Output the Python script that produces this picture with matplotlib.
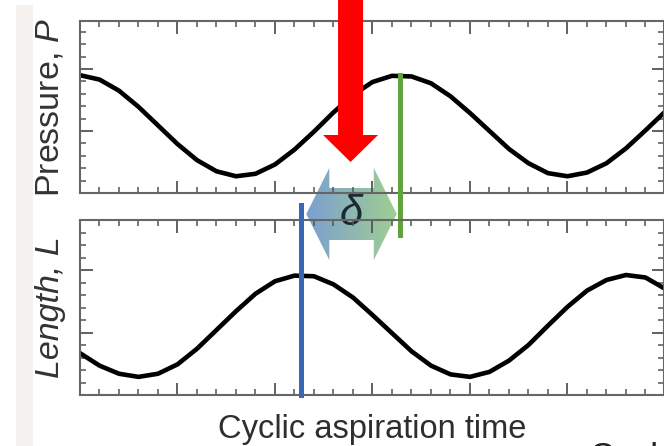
import numpy as np
import matplotlib.pyplot as plt
from matplotlib.patches import Polygon, Rectangle
from matplotlib.colors import LinearSegmentedColormap
from matplotlib.ticker import MultipleLocator

plt.rcParams['font.family'] = ['Liberation Sans', 'DejaVu Sans']
plt.rcParams['mathtext.fontset'] = 'custom'
plt.rcParams['mathtext.it'] = 'Liberation Sans:italic'
plt.rcParams['mathtext.rm'] = 'Liberation Sans'

# readings (time in arbitrary units)
time = [0.0, 0.2, 0.4, 0.6, 0.8, 1.0, 1.2, 1.4, 1.6, 1.8, 2.0,
        2.2, 2.4, 2.6, 2.8, 3.0, 3.2, 3.4, 3.6, 3.8, 4.0,
        4.2, 4.4, 4.6, 4.8, 5.0, 5.2, 5.4, 5.6, 5.8, 6.0]
pressure = [1.90, 1.83, 1.65, 1.39, 1.09, 0.79, 0.53, 0.35, 0.27, 0.31, 0.46,
            0.70, 0.99, 1.30, 1.58, 1.79, 1.89, 1.88, 1.77, 1.56, 1.29,
            1.00, 0.71, 0.48, 0.32, 0.27, 0.33, 0.48, 0.72, 1.01, 1.31]
length = [0.67, 0.47, 0.34, 0.29, 0.34, 0.49, 0.74, 1.04, 1.34, 1.62, 1.82,
          1.91, 1.90, 1.77, 1.56, 1.28, 0.99, 0.70, 0.47, 0.33, 0.29,
          0.37, 0.55, 0.80, 1.11, 1.41, 1.67, 1.84, 1.92, 1.88, 1.70]

p_peak = 3.28   # time of pressure maximum
l_peak = 2.27   # time of length maximum
delta_label = r'$\delta$'

W, H = 664, 446
fig = plt.figure(figsize=(W / 100, H / 100), dpi=100)

# overlay axes in pixel units, one below and one above the plots
under = fig.add_axes([0, 0, 1, 1], zorder=0)
ax_p = fig.add_axes([80 / W, 1 - 193 / H, 584 / W, 172 / H], zorder=2)
ax_l = fig.add_axes([80 / W, 1 - 395 / H, 584 / W, 175 / H], zorder=2)
over = fig.add_axes([0, 0, 1, 1], zorder=5)

for ax, y, top in ((ax_p, pressure, 172 / 62), (ax_l, length, 175 / 62.5)):
    ax.set_facecolor('none')
    ax.plot(time, y, color='black', lw=3.3, solid_capstyle='round',
            solid_joinstyle='round')
    ax.set_xlim(0, 5.99)
    ax.set_ylim(0, top)
    ax.xaxis.set_major_locator(MultipleLocator(1))
    ax.xaxis.set_minor_locator(MultipleLocator(0.2))
    ax.yaxis.set_major_locator(MultipleLocator(1))
    ax.yaxis.set_minor_locator(MultipleLocator(0.2))
    ax.tick_params(which='both', direction='in', top=True, right=True,
                   labelleft=False, labelbottom=False, color='#555555')
    ax.tick_params(which='major', length=9, width=1.3)
    ax.tick_params(which='minor', length=4.5, width=1.1)
    for s in ax.spines.values():
        s.set_color('#666666')
        s.set_linewidth(1.5)

# vertical markers at the two maxima
ax_p.axvline(p_peak, ymin=-0.245, ymax=max(pressure) / ax_p.get_ylim()[1],
             color='#62a43c', lw=3.6, clip_on=False, zorder=4)
ax_l.axvline(l_peak, ymin=0, ymax=1.086, color='#3a66b8', lw=3.6,
             clip_on=False, zorder=4)

for o in (under, over):
    o.set_xlim(0, W)
    o.set_ylim(0, H)
    o.axis('off')
    o.patch.set_alpha(0)

# light strip on the left edge
under.add_patch(Rectangle((16, 0), 17, H - 5, color='#f4f1ee', lw=0))

# gradient double arrow between the two maxima
x0 = ax_l.transData.transform((l_peak, 0))[0] + 5
x1 = ax_p.transData.transform((p_peak, 0))[0] - 3
yc = H - 214
hh, sh, hl = 46, 26, 23
pts = [(x0, yc), (x0 + hl, yc + hh), (x0 + hl, yc + sh), (x1 - hl, yc + sh),
       (x1 - hl, yc + hh), (x1, yc), (x1 - hl, yc - hh), (x1 - hl, yc - sh),
       (x0 + hl, yc - sh), (x0 + hl, yc - hh)]
arrow = Polygon(pts, closed=True, facecolor='none', edgecolor='none')
under.add_patch(arrow)
cmap = LinearSegmentedColormap.from_list('bg', ['#7c9fd2', '#9fcf91'])
im = under.imshow(np.linspace(0, 1, 256)[None, :], cmap=cmap, aspect='auto',
                  extent=(x0, x1, yc - hh, yc + hh), zorder=1)
im.set_clip_path(arrow)
under.set_xlim(0, W)
under.set_ylim(0, H)
under.text((x0 + x1) / 2, yc, delta_label, ha='center', va='center',
           fontsize=30, color='#1c2a30', zorder=3)

# red arrow pointing at the lag
cx = (ax_l.transData.transform((l_peak, 0))[0]
      + ax_p.transData.transform((p_peak, 0))[0]) / 2
over.arrow(cx, H, 0, -162, width=25, head_width=55, head_length=27,
           length_includes_head=True, color='#ff0000', lw=0)

# labels
pp = ax_p.get_position()
lp = ax_l.get_position()
fig.text(50 / W, (pp.y0 + pp.y1) / 2, 'Pressure, $P$', rotation=90,
         ha='center', va='center', fontsize=24.5, color='#333333')
fig.text(50 / W, (lp.y0 + lp.y1) / 2, 'Length, L', rotation=90,
         ha='center', va='center', fontsize=24.5, style='italic',
         color='#333333')
fig.text(372 / W, 8 / H, 'Cyclic aspiration time', ha='center',
         va='baseline', fontsize=23.5, color='#2e2e2e')
fig.text(588 / W, 4 / H, 'Cycle', ha='left', va='top', fontsize=26,
         color='#222222')

fig.savefig('out.png', dpi=100)
